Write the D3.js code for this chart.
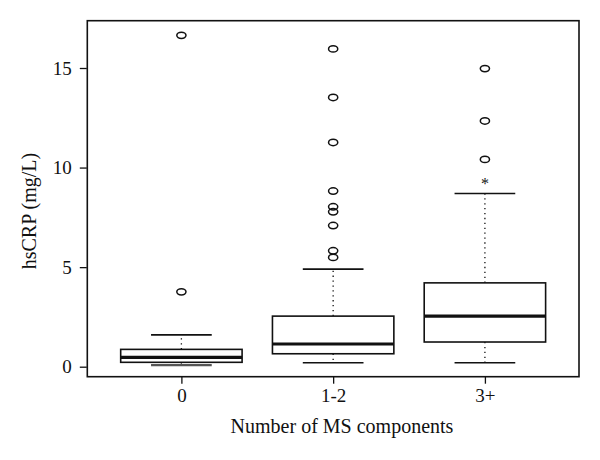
<!DOCTYPE html>
<html>
<head>
<meta charset="utf-8">
<script src="https://cdn.jsdelivr.net/npm/d3@7"></script>
<style>
  body { margin: 0; background: #fff; }
  svg { display: block; }
  text { font-family: "Liberation Serif", "Times New Roman", serif; fill: #111; }
</style>
</head>
<body>
<svg width="600" height="460"></svg>
<script>
// data
var groups = ["0", "1-2", "3+"];
var q1 = [0.22, 0.65, 1.24];
var medians = [0.47, 1.14, 2.54];
var q3 = [0.87, 2.54, 4.21];
var whiskerLow = [0.08, 0.2, 0.2];
var whiskerHigh = [1.6, 4.9, 8.7];
var outliers = [
    [3.76, 16.64],
    [5.49, 5.82, 7.09, 7.78, 8.03, 8.82, 11.26, 13.52, 15.96],
    [10.41, 12.34, 14.97]
];
var starred = [null, null, 9.23];
var yTicks = [0, 5, 10, 15];

var svg = d3.select("svg");

// plot frame
var plotL = 87.3, plotR = 579, plotT = 20.7, plotB = 376.7;

var x = d3.scaleLinear().domain([0.38, 3.62]).range([plotL, plotR]);
var y = d3.scaleLinear().domain([0, 15]).range([366.7, 68]);

var boxW = x(1.4) - x(1);   // half box width (0.4 units)
var capW = x(1.2) - x(1);   // half cap width

var ink = "#111";

// y axis
var yAxis = d3.axisLeft(y).tickValues(yTicks).tickSize(7).tickPadding(8);
var gy = svg.append("g").attr("transform", "translate(" + (plotL - 0.5) + ",0)").call(yAxis);
gy.select(".domain").remove();
gy.selectAll("line").attr("stroke", ink).attr("stroke-width", 1.3);
gy.selectAll("text").attr("font-size", 19).attr("font-family", null).attr("fill", ink);

// x axis
var xAxis = d3.axisBottom(x).tickValues([1, 2, 3]).tickFormat((d)=>{ return groups[d-1]; }).tickSize(7).tickPadding(5);
var gx = svg.append("g").attr("transform", "translate(0," + plotB + ")").call(xAxis);
gx.select(".domain").remove();
gx.selectAll("line").attr("stroke", ink).attr("stroke-width", 1.3);
gx.selectAll("text").attr("font-size", 19).attr("font-family", null).attr("fill", ink);

// frame
svg.append("rect")
    .attr("x", plotL).attr("y", plotT)
    .attr("width", plotR - plotL).attr("height", plotB - plotT)
    .attr("fill", "none").attr("stroke", ink).attr("stroke-width", 1.6);

var idx = d3.range(groups.length);

// dotted whiskers
var g = svg.append("g");
g.selectAll(".wup").data(idx).enter().append("line")
    .attr("x1", (i)=>{ return x(i+1); }).attr("x2", (i)=>{ return x(i+1); })
    .attr("y1", (i)=>{ return y(q3[i]); }).attr("y2", (i)=>{ return y(whiskerHigh[i]); })
    .attr("stroke", ink).attr("stroke-width", 1.3).attr("stroke-dasharray", "1.3,3.6");
g.selectAll(".wlo").data(idx).enter().append("line")
    .attr("x1", (i)=>{ return x(i+1); }).attr("x2", (i)=>{ return x(i+1); })
    .attr("y1", (i)=>{ return y(q1[i]); }).attr("y2", (i)=>{ return y(whiskerLow[i]); })
    .attr("stroke", ink).attr("stroke-width", 1.3).attr("stroke-dasharray", "1.3,3.6");

// whisker caps
g.selectAll(".capHi").data(idx).enter().append("line")
    .attr("x1", (i)=>{ return x(i+1) - capW; }).attr("x2", (i)=>{ return x(i+1) + capW; })
    .attr("y1", (i)=>{ return y(whiskerHigh[i]); }).attr("y2", (i)=>{ return y(whiskerHigh[i]); })
    .attr("stroke", ink).attr("stroke-width", 1.6);
g.selectAll(".capLo").data(idx).enter().append("line")
    .attr("x1", (i)=>{ return x(i+1) - capW; }).attr("x2", (i)=>{ return x(i+1) + capW; })
    .attr("y1", (i)=>{ return y(whiskerLow[i]); }).attr("y2", (i)=>{ return y(whiskerLow[i]); })
    .attr("stroke", (i)=>{ return i == 0 ? "#555" : ink; })
    .attr("stroke-width", (i)=>{ return i == 0 ? 2.2 : 1.6; });

// boxes
g.selectAll(".box").data(idx).enter().append("rect")
    .attr("x", (i)=>{ return x(i+1) - boxW; })
    .attr("width", boxW * 2)
    .attr("y", (i)=>{ return y(q3[i]); })
    .attr("height", (i)=>{ return y(q1[i]) - y(q3[i]); })
    .attr("fill", "white").attr("stroke", ink).attr("stroke-width", 1.6);

// medians
g.selectAll(".med").data(idx).enter().append("line")
    .attr("x1", (i)=>{ return x(i+1) - boxW; }).attr("x2", (i)=>{ return x(i+1) + boxW; })
    .attr("y1", (i)=>{ return y(medians[i]); }).attr("y2", (i)=>{ return y(medians[i]); })
    .attr("stroke", ink).attr("stroke-width", 3.2);

// outliers
var pts = [];
outliers.forEach((list, i)=>{ list.forEach((v)=>{ pts.push({g: i, v: v}); }); });
g.selectAll(".out").data(pts).enter().append("ellipse")
    .attr("cx", (d)=>{ return x(d.g+1); })
    .attr("cy", (d)=>{ return y(d.v); })
    .attr("rx", 4.6).attr("ry", 3.2)
    .attr("fill", "none").attr("stroke", ink).attr("stroke-width", 1.5);

// asterisk mark
g.selectAll(".star").data(idx.filter((i)=>{ return starred[i] != null; })).enter().append("text")
    .attr("x", (i)=>{ return x(i+1); })
    .attr("y", (i)=>{ return y(starred[i]) + 6; })
    .attr("text-anchor", "middle").attr("font-size", 16)
    .attr("font-family", "DejaVu Sans, sans-serif")
    .text("*");

// axis titles
svg.append("text")
    .attr("x", 342).attr("y", 433)
    .attr("text-anchor", "middle").attr("font-size", 20)
    .text("Number of MS components");

svg.append("text")
    .attr("transform", "translate(36,211) rotate(-90)")
    .attr("text-anchor", "middle").attr("font-size", 20)
    .text("hsCRP (mg/L)");
</script>
</body>
</html>
